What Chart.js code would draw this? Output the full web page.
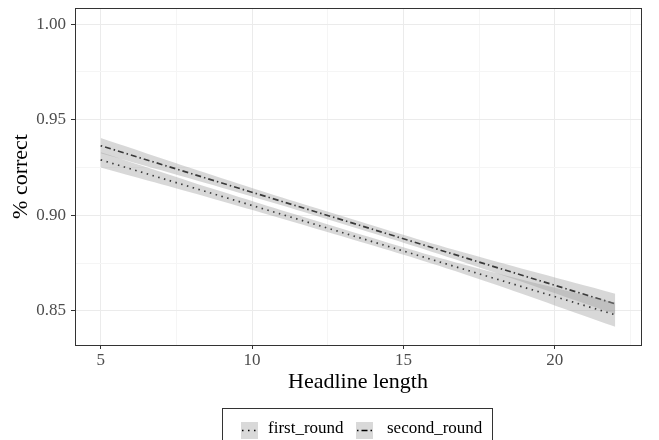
<!DOCTYPE html>
<html>
<head>
<meta charset="utf-8">
<script src="https://cdn.jsdelivr.net/npm/chart.js@4/dist/chart.umd.min.js"></script>
<style>
  html, body { margin: 0; padding: 0; background: #fff; }
  #wrap { width: 659px; height: 440px; position: relative; }
</style>
</head>
<body>
<div id="wrap"><canvas id="smoothChart" width="659" height="440"></canvas></div>
<script>
// headline length positions where the fitted values are read
var headlineLen = [5, 9, 13, 17, 22];
var seriesNames = ['first_round', 'second_round'];

// fitted line (% correct)
var firstFit  = [0.929, 0.9099, 0.8909, 0.8718, 0.848];
var secondFit = [0.9364, 0.9169, 0.8975, 0.8780, 0.8537];

// confidence band edges
var firstLow   = [0.925, 0.9074, 0.8889, 0.8693, 0.8417];
var firstHigh  = [0.933, 0.9124, 0.8929, 0.8743, 0.8543];
var secondLow  = [0.9324, 0.9144, 0.8955, 0.8755, 0.8484];
var secondHigh = [0.9404, 0.9194, 0.8995, 0.8805, 0.859];

var xTicks = [5, 7.5, 10, 12.5, 15, 17.5, 20, 22.5];
var yTicks = [0.85, 0.875, 0.9, 0.925, 0.95, 0.975, 1.0];

function pts(ys) {
    return headlineLen.map(function (x, i) { return { x: x, y: ys[i] }; });
}

var bandFill = 'rgba(153,153,153,0.38)';
var dashes = [[1.5, 4.5], [1.5, 3, 6, 3]];
var serif = '"Liberation Serif", "DejaVu Serif", serif';

function band(low, high) {
    return [
        { data: pts(low), borderWidth: 0, pointRadius: 0, fill: false, tension: 0.4 },
        { data: pts(high), borderWidth: 0, pointRadius: 0, fill: '-1', backgroundColor: bandFill, tension: 0.4 }
    ];
}

function isMajor(v, step) {
    return Math.abs(v / step - Math.round(v / step)) < 1e-6;
}

var panelBorder = {
    id: 'panelBorder',
    afterDraw: function (chart) {
        var c = chart.ctx, a = chart.chartArea;
        c.save();
        c.strokeStyle = '#333333';
        c.lineWidth = 1;
        c.strokeRect(a.left + 0.5, a.top + 0.5, a.right - a.left, a.bottom - a.top);

        // legend box at the bottom
        c.strokeStyle = '#333333';
        c.strokeRect(222.5, 408.5, 270, 40);
        c.font = '17px ' + serif;
        c.textBaseline = 'middle';
        var keyX = [241, 356];
        var textX = [268, 387];
        seriesNames.forEach(function (name, i) {
            c.fillStyle = '#d9d9d9';
            c.fillRect(keyX[i], 422, 17, 17);
            c.strokeStyle = '#000';
            c.lineWidth = 1.5;
            c.setLineDash(dashes[i]);
            c.beginPath();
            c.moveTo(keyX[i] + 1, 430.5);
            c.lineTo(keyX[i] + 16, 430.5);
            c.stroke();
            c.setLineDash([]);
            c.fillStyle = '#000';
            c.fillText(name, textX[i], 429);
        });
        c.restore();
    }
};

var datasets = []
    .concat(band(firstLow, firstHigh))
    .concat(band(secondLow, secondHigh))
    .concat([
        { label: seriesNames[0], data: pts(firstFit), borderColor: '#000', borderWidth: 1.7,
          borderDash: dashes[0], pointRadius: 0, fill: false },
        { label: seriesNames[1], data: pts(secondFit), borderColor: '#000', borderWidth: 1.7,
          borderDash: dashes[1], pointRadius: 0, fill: false }
    ]);

new Chart(document.getElementById('smoothChart'), {
    type: 'line',
    data: { datasets: datasets },
    plugins: [panelBorder],
    options: {
        responsive: false,
        animation: false,
        layout: { padding: { left: 0, right: 18, top: 8, bottom: 45 } },
        plugins: { legend: { display: false }, tooltip: { enabled: false } },
        scales: {
            x: {
                type: 'linear',
                min: 4.15,
                max: 22.85,
                afterBuildTicks: function (s) { s.ticks = xTicks.map(function (v) { return { value: v }; }); },
                afterFit: function (s) { s.height = 50; s.paddingLeft = 0; s.paddingRight = 0; },
                border: { display: false },
                grid: {
                    color: function (ctx) { return isMajor(ctx.tick.value, 5) ? '#ebebeb' : '#f5f5f5'; },
                    tickColor: function (ctx) { return isMajor(ctx.tick.value, 5) ? '#333333' : 'rgba(0,0,0,0)'; },
                    tickLength: 4
                },
                ticks: {
                    autoSkip: false,
                    maxRotation: 0,
                    padding: 1,
                    color: '#4d4d4d',
                    font: { family: serif, size: 17 },
                    callback: function (v) { return isMajor(v, 5) ? String(v) : ''; }
                },
                title: {
                    display: true,
                    text: 'Headline length',
                    color: '#000',
                    font: { family: serif, size: 22 },
                    padding: { top: 0, bottom: 0 }
                }
            },
            y: {
                type: 'linear',
                min: 0.8322,
                max: 1.0084,
                afterBuildTicks: function (s) { s.ticks = yTicks.map(function (v) { return { value: v }; }); },
                afterFit: function (s) { s.width = 75; s.paddingTop = 0; s.paddingBottom = 0; },
                border: { display: false },
                grid: {
                    color: function (ctx) { return isMajor(ctx.tick.value, 0.05) ? '#ebebeb' : '#f5f5f5'; },
                    tickColor: function (ctx) { return isMajor(ctx.tick.value, 0.05) ? '#333333' : 'rgba(0,0,0,0)'; },
                    tickLength: 4
                },
                ticks: {
                    autoSkip: false,
                    padding: 5,
                    color: '#4d4d4d',
                    font: { family: serif, size: 17 },
                    callback: function (v) { return isMajor(v, 0.05) ? v.toFixed(2) : ''; }
                },
                title: {
                    display: true,
                    text: '% correct',
                    color: '#000',
                    font: { family: serif, size: 22 },
                    padding: { top: 8, bottom: 0 }
                }
            }
        }
    }
});
</script>
</body>
</html>
